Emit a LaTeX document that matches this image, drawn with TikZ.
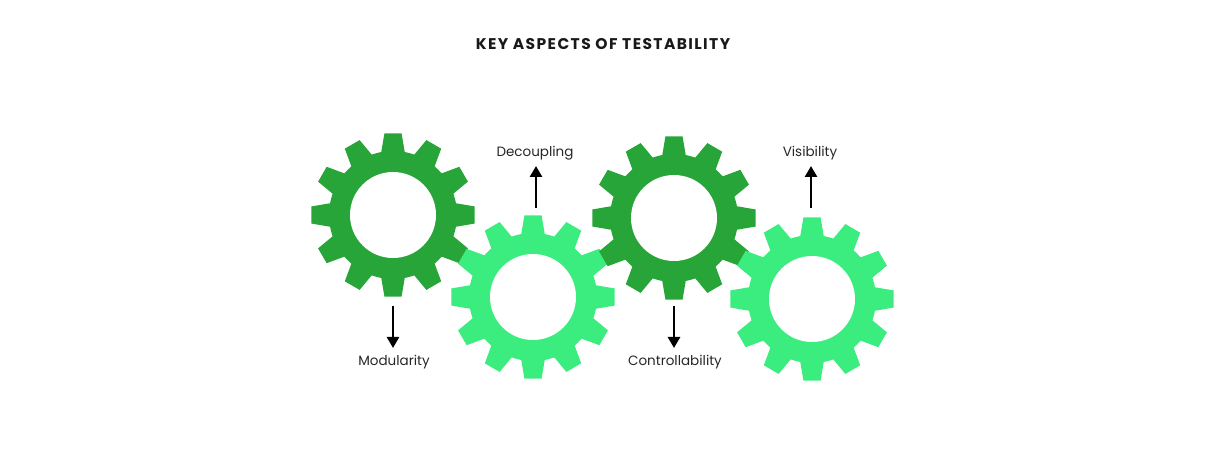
\documentclass[tikz,border=0pt]{standalone}
\usepackage{fontspec}
\setmainfont{Poppins}
\usetikzlibrary{arrows.meta}
\definecolor{dk}{HTML}{28A539}
\definecolor{lt}{HTML}{3BEC7E}
\tikzset{lbl/.style={font=\fontsize{13.5}{15}\selectfont, text=black!85},
  arr/.style={line width=2.6pt,-{Triangle[length=11pt,width=12pt]}}}
\newcommand{\gear}[4]{% name, x, y, color
  \begin{scope}[shift={(#2,#3)}]
  \fill[#4] (0,0) circle (64);
  \foreach \a in {90,120,...,420}{
    \fill[#4] (\a-12:60) -- (\a-6:82) -- (\a+6:82) -- (\a+12:60) -- cycle;}
  \fill[white] (0,0) circle (43);
  \coordinate (#1) at (0,0);
  \end{scope}}
\begin{document}
\begin{tikzpicture}[x=1pt,y=-1pt]
\useasboundingbox (0,0) rectangle (1205,462);
\node[font=\bfseries\fontsize{15.5}{17}\selectfont\addfontfeature{LetterSpace=9}, text=black!90] (title) at (603,44) {KEY ASPECTS OF TESTABILITY};
\gear{g1}{393}{215}{dk}
\gear{g2}{533}{297}{lt}
\gear{g3}{674}{218}{dk}
\gear{g4}{812}{299}{lt}
\coordinate (a1s) at (393,306); \coordinate (a1e) at (393,348);
\coordinate (a2s) at (536,208); \coordinate (a2e) at (536,166);
\coordinate (a3s) at (674,306); \coordinate (a3e) at (674,348);
\coordinate (a4s) at (811,208); \coordinate (a4e) at (811,166);
\draw[arr] (a1s) -- (a1e);
\draw[arr] (a2s) -- (a2e);
\draw[arr] (a3s) -- (a3e);
\draw[arr] (a4s) -- (a4e);
\node[lbl] (l1) at (394,362) {Modularity};
\node[lbl] (l2) at (535,153) {Decoupling};
\node[lbl] (l3) at (675,362) {Controllability};
\node[lbl] (l4) at (810,153) {Visibility};
\end{tikzpicture}
\end{document}
